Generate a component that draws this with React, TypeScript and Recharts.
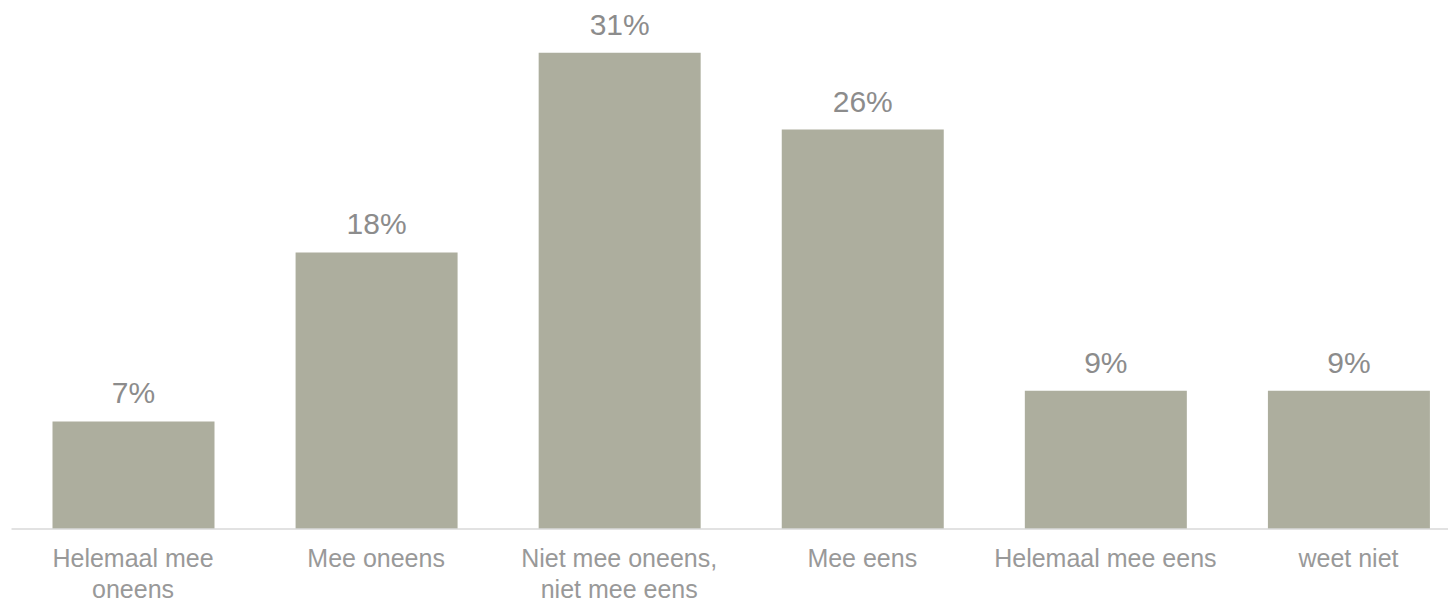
import React from 'react';
import { BarChart, Bar, XAxis, YAxis, LabelList } from 'recharts';

const categories = [
  'Helemaal mee\noneens',
  'Mee oneens',
  'Niet mee oneens,\nniet mee eens',
  'Mee eens',
  'Helemaal mee eens',
  'weet niet',
];
const percentages = [7, 18, 31, 26, 9, 9];

const data = categories.map((name, i) => ({ name, value: percentages[i] }));

const FONT = 'Arial, "Liberation Sans", sans-serif';

const CategoryTick = (props: any) => {
  const { x, y, payload } = props;
  const lines = String(payload.value).split('\n');
  return (
    <text x={x} y={y} textAnchor="middle" fill="#999999" fontSize={25} fontFamily={FONT}>
      {lines.map((line, i) => (
        <tspan key={i} x={x} dy={i === 0 ? 38 : 30.5}>
          {line}
        </tspan>
      ))}
    </text>
  );
};

const App: React.FC = () => {
  return (
    <div style={{ position: 'fixed', left: 0, top: 0, width: 1448, height: 602, overflow: 'hidden', background: '#fff' }}>
      <BarChart
        width={1470}
        height={602}
        data={data}
        margin={{ top: 6.6, right: 0, left: 11.5, bottom: 0 }}
      >
        <XAxis
          dataKey="name"
          interval={0}
          height={73}
          tickLine={false}
          tickSize={0}
          tickMargin={0}
          axisLine={{ stroke: '#d9d9d9', strokeWidth: 1.5 }}
          tick={<CategoryTick />}
        />
        <YAxis hide domain={[0, 34]} />
        <Bar dataKey="value" fill="#adae9e" barSize={162} isAnimationActive={false}>
          <LabelList
            dataKey="value"
            position="top"
            offset={18}
            formatter={(v: any) => `${v}%`}
            style={{ fill: '#8c8c8c', fontSize: 30, fontFamily: FONT }}
          />
        </Bar>
      </BarChart>
    </div>
  );
};

export default App;
